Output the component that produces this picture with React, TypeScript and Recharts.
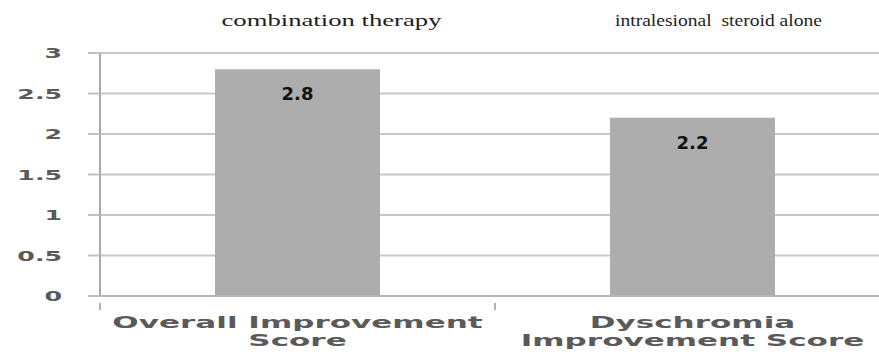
import { BarChart, Bar, XAxis, YAxis, CartesianGrid, LabelList } from "recharts";

const categoryLines = [
  ["Overall Improvement", "Score"],
  ["Dyschromia", "Improvement Score"],
];
const scores = [2.8, 2.2];
const groupLabels = ["combination therapy", "intralesional  steroid alone"];
const yTicks = [0, 0.5, 1, 1.5, 2, 2.5, 3];

const data = categoryLines.map((lines, i) => ({
  name: lines.join(" "),
  score: scores[i],
  group: groupLabels[i],
}));

// header captions sit a little right of each bar and are stretched wide
const groupShift = [34, 26];
const groupWidth = [220, 207];

const AXIS_TEXT = "#5a5a5a";

const YTick = ({ x, y, payload }: any) => (
  <g transform={`translate(${x},${y})`}>
    <text
      transform="scale(1.8,1)"
      textAnchor="end"
      dy={5}
      fontFamily="DejaVu Sans"
      fontWeight="bold"
      fontSize={14}
      fill={AXIS_TEXT}
    >
      {payload.value}
    </text>
  </g>
);

// two-line category label plus a small tick on the left edge of the band
const CategoryTick = ({ x, y, index, payload }: any) => {
  const lines = categoryLines[index] ?? [];
  const half = payload?.offset ?? 0;
  return (
    <g transform={`translate(${x},${y})`}>
      <line x1={-half} x2={-half} y1={-1} y2={6} stroke="#b0b0b0" strokeWidth={2} />
      {lines.map((line, i) => (
        <text
          key={i}
          transform={`translate(0,${24 + i * 18}) scale(1.94,1)`}
          textAnchor="middle"
          fontFamily="DejaVu Sans"
          fontWeight="bold"
          fontSize={16}
          fill={AXIS_TEXT}
        >
          {line}
        </text>
      ))}
    </g>
  );
};

const GroupTick = ({ x, index }: any) => (
  <text
    x={x + groupShift[index] - groupWidth[index] / 2}
    y={26}
    textLength={groupWidth[index]}
    lengthAdjust="spacingAndGlyphs"
    fontFamily="Liberation Serif"
    fontSize={17}
    fill="#1e1e1e"
    style={{ whiteSpace: "pre" }}
  >
    {groupLabels[index]}
  </text>
);

const ValueLabel = ({ x, y, width, value }: any) => (
  <text
    x={x + width / 2}
    y={y + 31}
    textAnchor="middle"
    fontFamily="DejaVu Sans"
    fontWeight="bold"
    fontSize={18}
    fill="#111"
  >
    {value}
  </text>
);

export default function App() {
  return (
    <div style={{ width: 879, height: 354, overflow: "hidden", background: "#fff" }}>
      <style>{`body{margin:0;overflow:hidden;}`}</style>
      <BarChart
        width={900}
        height={354}
        data={data}
        margin={{ top: 0, right: 10, bottom: 0, left: 0 }}
        barCategoryGap={115}
      >
        <CartesianGrid vertical={false} stroke="#c8c8c8" strokeWidth={2} />
        <XAxis
          xAxisId="top"
          orientation="top"
          dataKey="group"
          height={53}
          axisLine={false}
          tickLine={false}
          tick={<GroupTick />}
        />
        <XAxis
          dataKey="name"
          height={58}
          axisLine={{ stroke: "#b5b5b5", strokeWidth: 2 }}
          tickLine={false}
          interval={0}
          tick={<CategoryTick />}
        />
        <YAxis
          domain={[0, 3]}
          ticks={yTicks}
          width={100}
          tickSize={12}
          tickMargin={26}
          axisLine={{ stroke: "#a8a8a8", strokeWidth: 2 }}
          tickLine={{ stroke: "#c0c0c0", strokeWidth: 2 }}
          tick={<YTick />}
        />
        <Bar dataKey="score" fill="#adadad" isAnimationActive={false}>
          <LabelList dataKey="score" content={<ValueLabel />} />
        </Bar>
      </BarChart>
    </div>
  );
}
